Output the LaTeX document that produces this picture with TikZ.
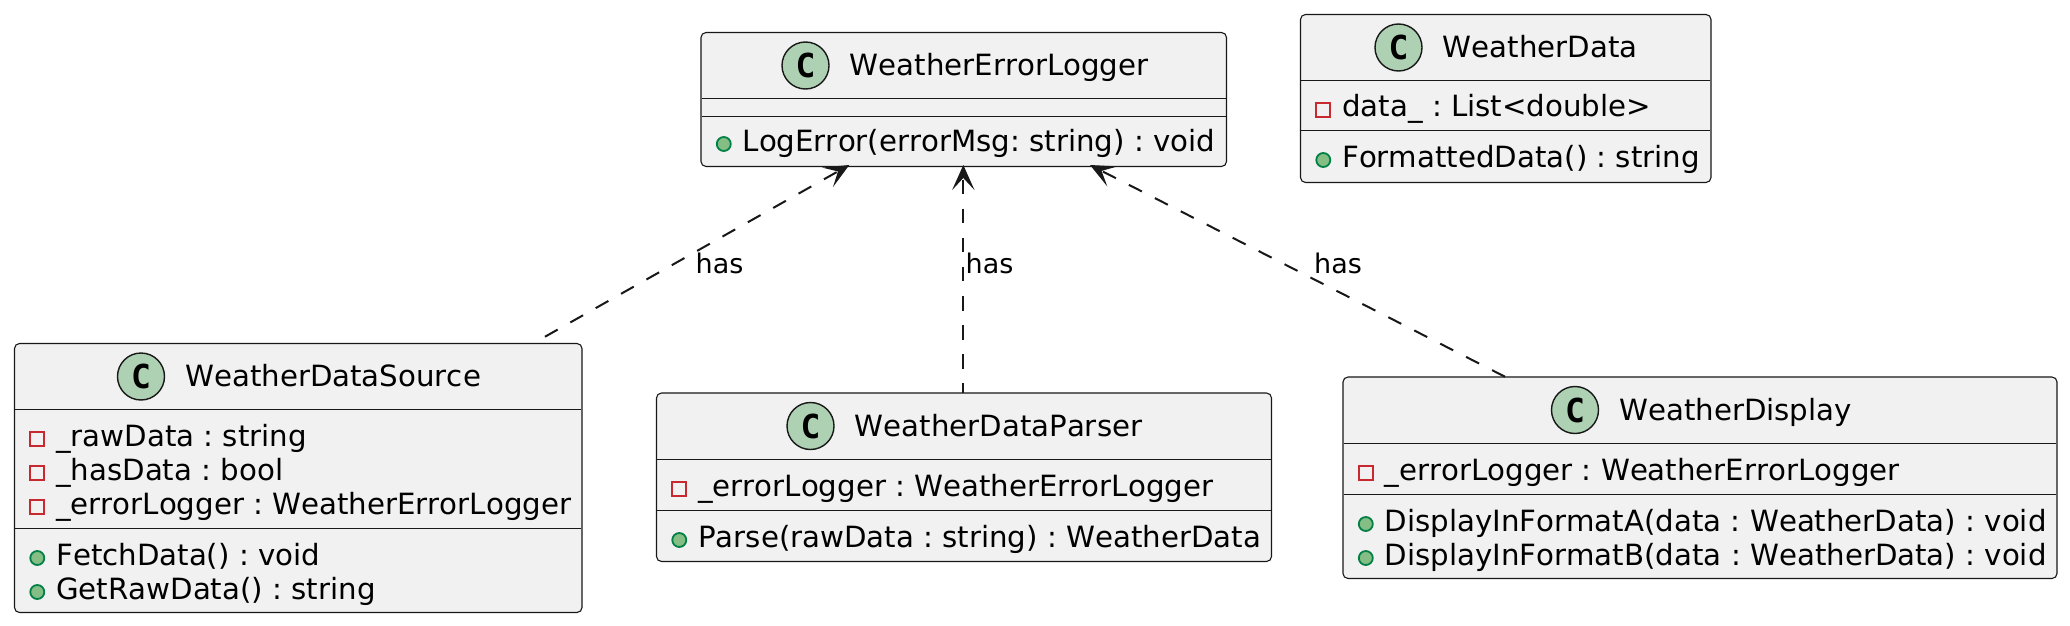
\documentclass[tikz,border=0pt]{standalone}
\usepackage{fontspec}
\setmainfont[Kerning=Off]{DejaVu Sans}
\setmonofont{DejaVu Sans Mono}
\usetikzlibrary{arrows.meta,calc}
\definecolor{boxfill}{HTML}{F1F1F1}
\definecolor{linec}{HTML}{181818}
\definecolor{circfill}{HTML}{ADD1B2}
\definecolor{pubfill}{HTML}{84BE84}
\definecolor{publine}{HTML}{038048}
\definecolor{privline}{HTML}{C82930}
\tikzset{
  x=1pt,y=-1pt,
  classbox/.style={draw=linec,fill=boxfill,line width=1.1pt,rounded corners=5pt,inner sep=0pt,outer sep=0pt,anchor=north west},
  sepline/.style={draw=linec,line width=1.1pt,shorten >=.8pt,shorten <=.8pt},
  classicon/.style={circle,draw=linec,fill=circfill,line width=1.4pt,minimum size=47pt,inner sep=0pt,font=\ttfamily\bfseries\fontsize{33}{33}\selectfont},
  titletext/.style={anchor=base west,inner sep=0pt,font=\frenchspacing\fontsize{29.25}{34}\selectfont,text=black},
  rowtext/.style={anchor=base west,inner sep=0pt,font=\frenchspacing\fontsize{29.25}{34}\selectfont,text=black},
  pubicon/.style={circle,draw=publine,fill=pubfill,line width=1.8pt,minimum size=14pt,inner sep=0pt},
  privicon/.style={rectangle,draw=privline,line width=1.8pt,minimum size=14pt,inner sep=0pt},
  hasdash/.style={draw=linec,line width=2pt,dash pattern=on 14.56pt off 14.56pt,dash phase=14.56pt},
  hashead/.style={draw=linec,fill=linec,line width=2pt,{Stealth[length=25pt,width=22.3pt,inset=12pt]}-},
  edgelabel/.style={anchor=base west,inner sep=0pt,font=\fontsize{27}{32}\selectfont,text=black},
}
% name, left, top, right, bottom, sep1, sep2, title x, title
\newcommand{\umlclass}[9]{%
  \pgfmathsetmacro{\boxw}{#4-#2}\pgfmathsetmacro{\boxh}{#5-#3}%
  \node[classbox,minimum width=\boxw pt,minimum height=\boxh pt] (#1) at (#2,#3) {};
  \draw[sepline] (#2,#6) -- (#4,#6);
  \draw[sepline] (#2,#7) -- (#4,#7);
  \pgfmathsetmacro{\iconx}{#8-44}\pgfmathsetmacro{\icony}{#3+33}%
  \pgfmathsetmacro{\titley}{#3+43.3}%
  \node[classicon] (#1Icon) at (\iconx,\icony) {C};
  \node[titletext] (#1Title) at (#8,\titley) {#9};
}
% name, box left, baseline, icon style, text
\newcommand{\umlrow}[5]{%
  \pgfmathsetmacro{\iconx}{#2+22.8}\pgfmathsetmacro{\icony}{#3-7}%
  \pgfmathsetmacro{\textx}{#2+41.5}%
  \node[#4] (#1Mark) at (\iconx,\icony) {};
  \node[rowtext] (#1) at (\textx,#3) {#5};
}
% arrow-head end, plain end
\newcommand{\hasedge}[2]{%
  \draw[hasdash] (#1) -- (#2);
  \draw[hashead] (#1) -- ($(#1)!13pt!(#2)$);
}
\begin{document}
\begin{tikzpicture}
\useasboundingbox (0,0) rectangle (2070,626);
\fill[white] (0,0) rectangle (2070,626);

\umlclass{logger}{701}{32.5}{1226.5}{166.5}{98.5}{116.5}{849.5}{WeatherErrorLogger}
\umlrow{loggerA}{701}{151}{pubicon}{LogError(errorMsg: string) : void}

\umlclass{wdata}{1300.5}{14.5}{1711}{182.5}{80.5}{130.5}{1442.5}{WeatherData}
\umlrow{wdataA}{1300.5}{117}{privicon}{data\_ : List<double>}
\umlrow{wdataB}{1300.5}{167}{pubicon}{FormattedData() : string}

\umlclass{source}{14.5}{343.5}{582}{612.5}{409.5}{528.5}{185}{WeatherDataSource}
\umlrow{sourceA}{14.5}{446}{privicon}{\_rawData : string}
\umlrow{sourceB}{14.5}{480}{privicon}{\_hasData : bool}
\umlrow{sourceC}{14.5}{514}{privicon}{\_errorLogger : WeatherErrorLogger}
\umlrow{sourceD}{14.5}{565}{pubicon}{FetchData() : void}
\umlrow{sourceE}{14.5}{599}{pubicon}{GetRawData() : string}

\umlclass{parser}{656.5}{393}{1271.5}{561.5}{459.5}{510.5}{854.5}{WeatherDataParser}
\umlrow{parserA}{656.5}{496}{privicon}{\_errorLogger : WeatherErrorLogger}
\umlrow{parserB}{656.5}{547}{pubicon}{Parse(rawData : string) : WeatherData}

\umlclass{display}{1343}{377}{2057}{578.5}{443.5}{494.5}{1619}{WeatherDisplay}
\umlrow{displayA}{1343}{480}{privicon}{\_errorLogger : WeatherErrorLogger}
\umlrow{displayB}{1343}{531}{pubicon}{DisplayInFormatA(data : WeatherData) : void}
\umlrow{displayC}{1343}{565}{pubicon}{DisplayInFormatB(data : WeatherData) : void}

\coordinate (tipA) at ([xshift=-114.45pt,yshift=1.5pt]logger.south);
\coordinate (tipB) at ([xshift=-0.45pt,yshift=1.5pt]logger.south);
\coordinate (tipC) at ([xshift=126.25pt,yshift=1.5pt]logger.south);
\coordinate (endA) at ([xshift=234.75pt]source.north);
\coordinate (endB) at ([xshift=-0.7pt]parser.north);
\coordinate (endC) at ([xshift=-194.5pt]display.north);
\hasedge{tipA}{endA}
\hasedge{tipB}{endB}
\hasedge{tipC}{endC}

\node[edgelabel] (hasA) at (695.5,273) {has};
\node[edgelabel] (hasB) at (965.5,273) {has};
\node[edgelabel] (hasC) at (1314,273) {has};
\end{tikzpicture}
\end{document}
